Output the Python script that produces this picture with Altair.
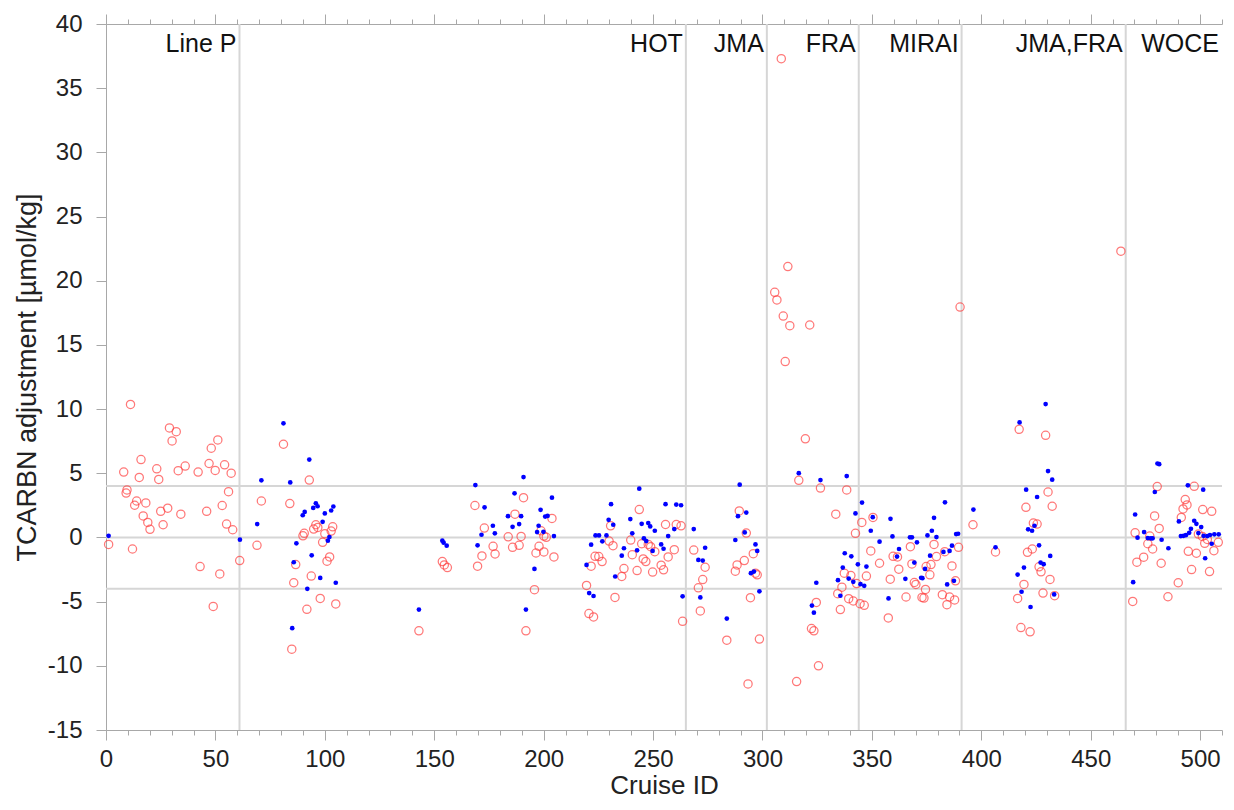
import altair as alt
import pandas as pd

# ---- data ----
blue_points = [
    (1.2, 0.13), (61.2, -0.17),
    (69.1, 1.04), (71.0, 4.45), (81.1, 8.89), (84.2, 4.29), (85.1, -7.07), (85.8, -1.93), (87.0, -0.46),
    (89.9, 1.73), (90.8, 1.99), (92.0, -4.0), (92.9, 6.07), (94.0, -1.39), (94.7, 2.3), (95.9, 2.66),
    (96.7, 2.43), (97.9, -3.15), (99.0, 1.22), (100.0, 1.87), (101.4, -0.25), (102.1, 0.03), (102.9, 2.1),
    (103.9, 2.41), (105.0, -3.53),
    (143.0, -5.62), (153.7, -0.25), (154.3, -0.41), (155.7, -0.64), (168.8, 4.08), (169.8, -0.61),
    (171.6, 0.21), (173.0, 2.35), (176.8, 0.91), (177.7, 0.32), (183.7, 1.66), (185.8, 0.83), (186.7, 3.44),
    (188.8, 1.04), (189.7, 1.66), (190.8, 4.7), (191.9, -5.62), (195.8, -2.45), (197.0, 0.42), (197.7, 0.91),
    (198.6, 2.15), (199.9, 0.44), (200.7, 1.63), (201.8, 1.68), (203.8, 3.1), (204.7, 0.11),
    (219.6, -2.14), (220.8, -4.33), (221.7, -0.56), (222.8, -4.56), (223.7, 0.16), (225.3, 0.16),
    (226.8, -0.3), (228.7, 0.16), (229.7, 1.37), (230.8, 2.59), (231.8, 0.99), (232.7, -3.04), (235.7, -1.42),
    (236.7, -0.84), (239.6, 1.43), (240.5, 0.32), (242.7, -1.0), (243.7, 3.8), (244.8, 1.06), (245.8, -0.07),
    (246.9, -0.28), (247.8, 1.12), (248.7, 0.86), (249.8, -1.05), (250.8, 0.52), (253.7, -0.54), (254.8, -0.88),
    (255.7, 2.59), (256.9, 0.11), (259.7, 0.65), (260.6, 2.56), (262.8, 2.51), (263.5, -4.59), (268.6, 0.65),
    (270.7, -1.75), (271.6, -4.67), (272.7, -1.8), (273.8, -0.8), (283.7, -6.32), (287.6, -0.2), (288.8, 1.66),
    (289.6, 4.11), (291.9, 0.39), (292.6, 1.94), (294.7, -2.78), (296.1, -2.66), (296.8, -0.54), (297.6, -1.05),
    (298.6, -4.2), (316.6, 5.01),
    (322.6, -5.31), (323.5, -5.86), (324.6, -3.53), (326.5, 4.47), (334.5, -3.33), (335.6, -4.54),
    (336.7, -2.35), (337.6, -1.23), (338.5, 4.78), (339.4, -3.2), (340.6, -1.47), (341.5, -3.46), (342.5, 1.87),
    (343.6, -2.09), (344.8, -3.64), (345.5, 2.72), (346.5, -3.77), (347.5, -2.27), (349.5, 0.52), (350.4, 1.58),
    (353.5, -0.33), (357.6, -4.75), (358.5, 1.45), (359.4, 0.08), (361.5, -1.49), (362.4, -0.9), (365.3, -3.22),
    (367.4, 0.01), (368.3, 0.01), (369.4, -1.96), (370.6, -0.38), (372.5, -3.14), (373.1, -3.17), (374.3, -2.45),
    (375.4, 0.16), (376.6, -1.42), (377.4, 0.52), (378.4, 1.53), (379.5, 0.03), (382.7, -1.13), (383.4, 2.74),
    (384.4, -3.66), (385.5, -1.05), (386.6, -0.64), (387.5, -3.38), (388.5, 0.26), (389.4, 0.29), (396.4, 2.17),
    (406.5, -0.77),
    (416.6, -2.89), (417.5, 8.96), (418.4, -4.23), (419.5, -2.35), (420.5, 3.72), (421.4, 0.63), (422.5, -5.42),
    (423.2, 0.52), (424.3, 0.91), (425.5, 3.15), (426.4, -0.61), (427.1, -1.96), (428.5, -2.08), (429.4, 10.39),
    (430.5, 5.17), (431.5, -1.44), (432.4, 4.5), (433.3, -4.44),
    (469.4, -3.48), (470.3, 1.79), (471.4, -0.02), (474.4, 0.42), (476.1, -0.05), (477.5, -0.07), (478.3, -0.07),
    (479.3, 3.54), (480.5, 5.76), (481.3, 5.71), (482.4, -0.18), (485.5, -0.84), (490.3, 1.25), (491.2, 0.11),
    (492.4, 0.13), (493.5, 0.18), (494.4, 4.06), (495.0, 0.36), (495.8, 0.67), (497.3, 1.3), (498.3, 1.06),
    (499.2, 0.34), (500.5, 0.81), (501.4, 3.72), (501.6, 0.13), (502.3, -1.62), (503.3, 0.11), (504.5, 0.19),
    (505.3, -0.49), (506.5, 0.24), (508.5, 0.24),
]

red_points = [
    (1.2, -0.54), (8.1, 5.09), (9.2, 3.46), (9.6, 3.7), (11.2, 10.36), (12.1, -0.9), (13.1, 2.51), (14.0, 2.84),
    (15.2, 4.68), (16.0, 6.07), (17.0, 1.68), (18.2, 2.69), (19.1, 1.17), (20.1, 0.63), (23.2, 5.35), (24.1, 4.52),
    (25.0, 2.04), (26.1, 0.99), (28.2, 2.28), (29.0, 8.53), (30.2, 7.52), (32.1, 8.24), (33.0, 5.2), (34.2, 1.81),
    (36.2, 5.56), (42.1, 5.09), (43.0, -2.27), (46.0, 2.04), (47.1, 5.76), (48.1, 6.95), (49.0, -5.37),
    (49.9, 5.22), (51.1, 7.6), (52.0, -2.84), (53.1, 2.49), (54.2, 5.66), (55.1, 1.04), (56.0, 3.57), (57.2, 5.01),
    (57.9, 0.6), (61.1, -1.8),
    (69.0, -0.61), (71.0, 2.84), (81.1, 7.26), (84.0, 2.64), (84.9, -8.7), (85.8, -3.53), (86.7, -2.11),
    (90.0, 0.13), (90.6, 0.32), (91.8, -5.6), (92.9, 4.47), (93.8, -3.01), (94.9, 0.65), (95.9, 0.99), (96.8, 0.78),
    (97.9, -4.75), (99.0, -0.38), (100.0, 0.29), (101.0, -1.85), (102.2, -1.52), (102.9, 0.5), (103.6, 0.83),
    (105.0, -5.18),
    (143.0, -7.27), (153.7, -1.88), (154.6, -2.14), (156.0, -2.35), (168.6, 2.49), (169.8, -2.24), (171.8, -1.44),
    (172.9, 0.73), (176.9, -0.69), (177.8, -1.29), (183.8, 0.05), (185.8, -0.77), (186.9, 1.81), (188.8, -0.61),
    (189.7, 0.08), (190.8, 3.1), (191.9, -7.27), (195.8, -4.07), (196.5, -1.21), (197.9, -0.69), (198.8, 0.52),
    (200.1, 0.11), (200.1, -1.13), (201.2, 0.01), (203.8, 1.48), (204.7, -1.52),
    (219.6, -3.74), (220.7, -5.93), (221.7, -2.24), (222.8, -6.19), (223.5, -1.47), (225.2, -1.49),
    (226.7, -1.88), (229.9, -0.28), (230.6, 0.91), (231.7, -0.64), (232.6, -4.67), (235.7, -3.04), (236.7, -2.42),
    (239.8, -0.2), (240.5, -1.34), (242.7, -2.58), (243.7, 2.17), (244.8, -0.49), (245.5, -1.67), (246.7, -1.88),
    (247.8, -0.54), (248.9, -0.72), (249.8, -2.7), (250.8, -1.11), (253.7, -2.16), (254.8, -2.52), (255.7, 1.01),
    (256.9, -1.52), (259.7, -0.95), (260.6, 1.01), (262.8, 0.91), (263.5, -6.53), (268.6, -0.98), (270.7, -3.92),
    (271.6, -5.72), (272.7, -3.28), (273.8, -2.32), (283.7, -8.0), (287.6, -2.63), (288.4, -2.14), (289.4, 2.07),
    (291.7, -1.8), (292.6, 0.34), (293.4, -11.41), (294.5, -4.69), (295.8, -1.26), (296.8, -2.78), (297.6, -2.91),
    (298.6, -7.92),
    (305.6, 19.1), (306.6, 18.5), (308.6, 37.3), (309.5, 17.25), (310.4, 13.7), (311.6, 21.1), (312.5, 16.5),
    (315.6, -11.23), (316.6, 4.45), (319.6, 7.68), (321.6, 16.55), (322.4, -7.1), (323.5, -7.27), (324.6, -5.06),
    (325.6, -10.0), (326.5, 3.85), (333.5, 1.81), (334.4, -4.38), (335.6, -5.62), (336.3, -3.87), (337.4, -2.78),
    (338.5, 3.7), (339.4, -4.77), (340.4, -2.97), (341.5, -4.95), (342.5, 0.32), (343.0, -3.59), (344.6, -5.16),
    (345.4, 1.17), (346.5, -5.29), (347.5, -3.01), (349.5, -1.05), (350.5, 1.56), (353.5, -2.01), (357.5, -6.27),
    (358.4, -3.25), (359.7, -1.47), (361.7, -1.52), (362.3, -2.47), (365.6, -4.64), (367.6, -0.72), (368.3, -2.06),
    (369.4, -3.51), (370.1, -3.66), (372.9, -4.67), (373.8, -4.72), (374.5, -4.05), (374.8, -2.27), (376.5, -2.91),
    (377.0, -2.11), (378.4, -0.54), (379.5, -1.49), (382.2, -4.46), (383.3, -1.11), (384.3, -5.24), (385.5, -4.64),
    (386.6, -2.22), (387.8, -4.87), (388.2, -3.38), (389.6, -0.77), (390.3, 17.95), (396.2, 0.99), (406.5, -1.13),
    (416.6, -4.75), (417.3, 8.42), (418.1, -7.02), (419.5, -3.66), (420.4, 2.35), (421.1, -1.16), (422.3, -7.35),
    (423.3, -0.9), (423.8, 1.12), (425.5, 1.04), (426.4, -2.29), (427.3, -2.68), (428.2, -4.33), (429.4, 7.96),
    (430.5, 3.54), (431.4, -3.27), (432.4, 2.43), (433.5, -4.54),
    (463.8, 22.3), (469.2, -4.98), (470.3, 0.36), (471.1, -1.93), (474.2, -1.54), (476.1, -0.49), (477.0, 0.11),
    (478.3, -0.9), (479.2, 1.68), (480.4, 3.96), (481.3, 0.7), (482.2, -2.01), (485.3, -4.62), (490.0, -3.53),
    (491.4, 1.56), (492.2, 2.22), (493.2, 2.95), (494.0, 2.53), (494.6, -1.08), (496.1, -2.5), (497.3, 3.98),
    (498.3, -1.23), (499.2, 0.26), (501.0, 0.08), (501.2, 2.17), (502.1, -0.46), (503.3, -0.15), (504.3, -2.66),
    (505.3, 2.04), (506.3, -1.03), (508.3, -0.38),
]

divider_x = [61, 265, 302, 344, 391, 466]
region_x = [61, 265, 302, 344, 391, 466, 510]
region_labels = ["Line P", "HOT", "JMA", "FRA", "MIRAI", "JMA,FRA", "WOCE"]
ref_lines_y = [-4, 0, 4]

x_ticks_major = list(range(0, 501, 50))
x_ticks_minor = list(range(0, 511, 10))
y_ticks = list(range(-15, 41, 5))

# ---- tables ----
blue_df = pd.DataFrame(blue_points, columns=["cruise", "adj"])
red_df = pd.DataFrame(red_points, columns=["cruise", "adj"])
div_df = pd.DataFrame({"cruise": divider_x})
lab_df = pd.DataFrame({"cruise": region_x, "label": region_labels})
h_df = pd.DataFrame({"adj": ref_lines_y})

FONT = "Liberation Sans"
AX_GREY = "#a8a8a8"
TXT = "#222222"
xscale = alt.Scale(domain=[0, 510], nice=False, zero=False)
yscale = alt.Scale(domain=[-15, 40], nice=False, zero=False)

yaxis = alt.Axis(values=y_ticks, tickSize=10, labelPadding=14, labelFontSize=24, labelFont=FONT,
                 labelColor=TXT, grid=False, domainColor=AX_GREY, tickColor=AX_GREY,
                 labelExpr="toString(datum.value)",
                 title="TCARBN adjustment [µmol/kg]", titleFont=FONT, titleFontSize=27,
                 titleFontWeight="normal", titleColor=TXT, titlePadding=6)

ax_bottom_major = alt.Axis(orient="bottom", values=x_ticks_major, tickSize=10, labelPadding=7,
                           labelFontSize=24, labelFont=FONT, labelColor=TXT, grid=False,
                           domainColor=AX_GREY, tickColor=AX_GREY, labelFlush=False,
                           title="Cruise ID", titleFont=FONT, titleFontSize=26, titleFontWeight="normal",
                           titleColor=TXT, titlePadding=1)
ax_bottom_minor = alt.Axis(orient="bottom", values=x_ticks_minor, tickSize=5, labels=False, domain=False,
                           grid=False, tickColor=AX_GREY)
ax_top_major = alt.Axis(orient="top", values=x_ticks_major, tickSize=10, labels=False, grid=False,
                        domainColor=AX_GREY, tickColor=AX_GREY)
ax_top_minor = alt.Axis(orient="top", values=x_ticks_minor, tickSize=5, labels=False, domain=False,
                        grid=False, tickColor=AX_GREY)

hlines = alt.Chart(h_df).mark_rule(color="#d6d6d6", strokeWidth=2).encode(
    y=alt.Y("adj:Q", scale=yscale, axis=yaxis)
)
vlines = alt.Chart(div_df).mark_rule(color="#d6d6d6", strokeWidth=2).encode(
    x=alt.X("cruise:Q", scale=xscale, axis=ax_bottom_minor, title=None)
)
red = alt.Chart(red_df).mark_point(shape="circle", filled=False, color="#ff4040", size=68,
                                   strokeWidth=1.25).encode(
    x=alt.X("cruise:Q", scale=xscale, axis=ax_bottom_major),
    y=alt.Y("adj:Q", scale=yscale, axis=yaxis),
)
blue = alt.Chart(blue_df).mark_circle(color="#0000ff", size=22, opacity=1).encode(
    x=alt.X("cruise:Q", scale=xscale, axis=ax_top_major, title=None),
    y=alt.Y("adj:Q", scale=yscale, axis=yaxis),
)
labels = alt.Chart(lab_df).mark_text(align="right", baseline="alphabetic", dx=-3, font=FONT,
                                     fontSize=25, color="#111111").encode(
    x=alt.X("cruise:Q", scale=xscale, axis=ax_top_minor, title=None),
    y=alt.value(28),
    text="label:N",
)

chart = alt.layer(hlines, vlines, red, blue, labels).resolve_axis(x="independent").properties(
    width=1116, height=706,
    autosize=alt.AutoSizeParams(type="none"),
    padding={"left": 98, "top": 16, "right": 2, "bottom": 72},
    background="white",
).configure_view(stroke=None)

chart.save("out.html", embed_options={"renderer": "svg", "actions": False})
